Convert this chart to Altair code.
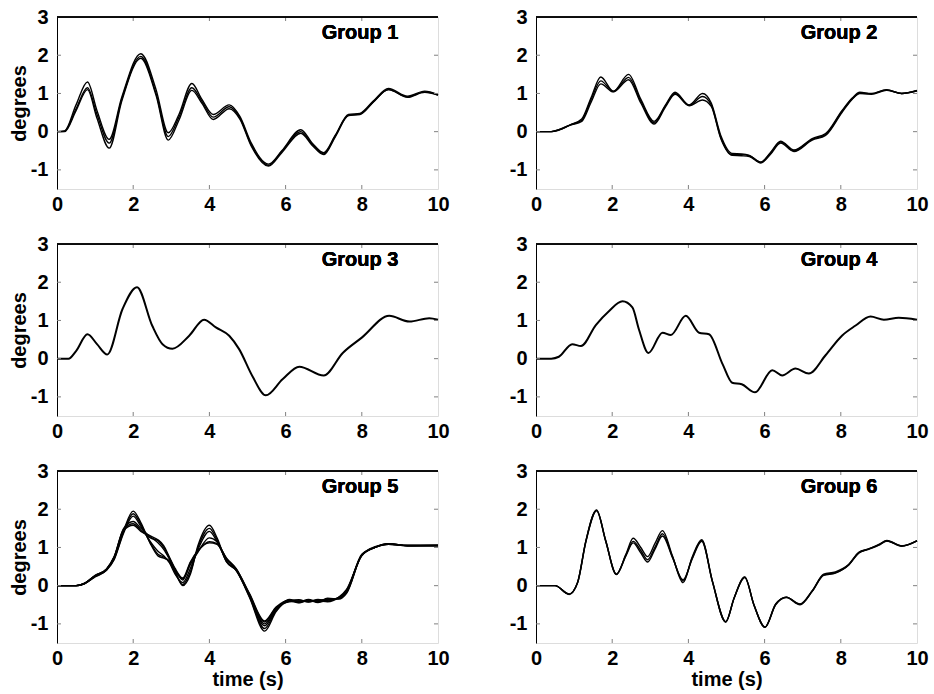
import altair as alt
import pandas as pd

# ---------------- data ----------------
G1_T = [0, 0.2, 0.5, 0.8, 1.05, 1.37, 1.7, 2.2, 2.6, 2.92, 3.2, 3.54, 3.8, 4.1, 4.52, 4.8,
        5.1, 5.55, 5.9, 6.4, 6.7, 7.0, 7.3, 7.65, 7.95, 8.3, 8.7, 9.2, 9.65, 10]
G1_A = [0, 0.02, 0.7, 1.3, 0.55, -0.2, 0.9, 2.04, 1.1, -0.03, 0.45, 1.26, 0.85, 0.45, 0.7, 0.4,
        -0.3, -0.85, -0.5, 0.05, -0.3, -0.55, -0.1, 0.45, 0.48, 0.8, 1.13, 0.93, 1.06, 0.97]
G1_B = [0, 0.01, 0.6, 1.15, 0.45, -0.3, 0.85, 1.97, 1.0, -0.13, 0.38, 1.15, 0.8, 0.38, 0.65, 0.36,
        -0.35, -0.88, -0.52, 0.0, -0.33, -0.58, -0.12, 0.43, 0.46, 0.78, 1.1, 0.91, 1.04, 0.96]
G1_C = [0, 0.0, 0.55, 1.1, 0.35, -0.43, 0.8, 1.92, 0.95, -0.22, 0.3, 1.08, 0.75, 0.32, 0.6, 0.33,
        -0.38, -0.9, -0.55, -0.04, -0.36, -0.6, -0.14, 0.42, 0.45, 0.77, 1.1, 0.9, 1.03, 0.96]

G2_T = [0, 0.4, 0.6, 0.9, 1.2, 1.45, 1.7, 2.03, 2.43, 2.75, 3.1, 3.4, 3.65, 4.02, 4.37, 4.6,
        4.85, 5.15, 5.4, 5.6, 5.9, 6.15, 6.42, 6.77, 7.25, 7.6, 8.03, 8.3, 8.5, 8.8, 9.2, 9.6, 10]
G2_A = [0, 0, 0.05, 0.18, 0.33, 0.9, 1.43, 1.06, 1.5, 0.85, 0.27, 0.7, 1.03, 0.7, 1.0, 0.75,
        -0.1, -0.57, -0.58, -0.62, -0.8, -0.55, -0.25, -0.48, -0.18, -0.05, 0.55, 0.88, 1.03, 1.0, 1.1, 1.0, 1.08]
G2_B = [0, 0, 0.05, 0.18, 0.3, 0.85, 1.33, 1.05, 1.42, 0.8, 0.23, 0.68, 1.0, 0.69, 0.92, 0.7,
        -0.15, -0.6, -0.6, -0.63, -0.8, -0.57, -0.27, -0.5, -0.2, -0.08, 0.53, 0.86, 1.01, 0.99, 1.09, 1.0, 1.07]
G2_C = [0, 0, 0.04, 0.17, 0.27, 0.78, 1.25, 1.04, 1.36, 0.75, 0.2, 0.65, 0.98, 0.68, 0.83, 0.66,
        -0.18, -0.62, -0.63, -0.65, -0.82, -0.6, -0.3, -0.52, -0.22, -0.1, 0.5, 0.85, 1.0, 0.98, 1.08, 1.0, 1.07]

G3_T = [0, 0.3, 0.5, 0.8, 1.05, 1.32, 1.72, 2.1, 2.5, 2.77, 3.03, 3.47, 3.86, 4.17, 4.52, 4.78,
        5.13, 5.48, 5.92, 6.36, 7.0, 7.5, 8.0, 8.72, 9.25, 9.77, 10]
G3_V = [0, 0.0, 0.2, 0.64, 0.38, 0.11, 1.3, 1.87, 0.86, 0.38, 0.26, 0.6, 1.02, 0.82, 0.6, 0.25,
        -0.46, -0.96, -0.54, -0.21, -0.44, 0.15, 0.55, 1.12, 0.97, 1.06, 1.02]

G4_T = [0, 0.4, 0.6, 0.95, 1.18, 1.57, 1.92, 2.27, 2.53, 2.7, 2.95, 3.32, 3.54, 3.93, 4.28, 4.54,
        4.9, 5.15, 5.4, 5.75, 6.2, 6.46, 6.81, 7.16, 7.6, 8.03, 8.38, 8.78, 9.13, 9.52, 10]
G4_V = [0, 0, 0.05, 0.38, 0.33, 0.88, 1.25, 1.5, 1.34, 0.77, 0.15, 0.68, 0.62, 1.12, 0.68, 0.64,
        -0.15, -0.63, -0.67, -0.88, -0.3, -0.44, -0.26, -0.39, 0.09, 0.6, 0.86, 1.1, 1.02, 1.07, 1.02]

G5_T = [0, 0.5, 0.7, 1.0, 1.3, 1.5, 1.75, 2.0, 2.2, 2.45, 2.65, 2.8, 2.95, 3.1, 3.3, 3.5, 3.7, 4.0,
        4.2, 4.45, 4.7, 5.05, 5.45, 5.75, 6.1, 6.35, 6.6, 6.85, 7.1, 7.4, 7.6, 8.0, 8.35, 8.7, 9.2, 10]
G5_A1 = [0, 0, 0.05, 0.25, 0.42, 0.72, 1.45, 1.95, 1.65, 1.1, 0.78, 0.72, 0.65, 0.38, 0.0, 0.3, 1.05, 1.58,
         1.25, 0.62, 0.4, -0.3, -1.19, -0.68, -0.36, -0.42, -0.36, -0.42, -0.33, -0.35, -0.2, 0.8, 1.0, 1.1, 1.05, 1.05]
G5_A2 = [0, 0, 0.04, 0.24, 0.41, 0.7, 1.42, 1.88, 1.6, 1.12, 0.82, 0.75, 0.62, 0.34, 0.03, 0.36, 1.0, 1.5,
         1.2, 0.63, 0.42, -0.28, -1.12, -0.65, -0.4, -0.37, -0.43, -0.36, -0.4, -0.3, -0.15, 0.82, 1.0, 1.08, 1.04, 1.06]
G5_A3 = [0, 0, 0.04, 0.23, 0.4, 0.68, 1.38, 1.82, 1.55, 1.15, 0.9, 0.78, 0.6, 0.3, 0.08, 0.45, 0.95, 1.42,
         1.15, 0.65, 0.4, -0.25, -1.05, -0.62, -0.38, -0.4, -0.4, -0.38, -0.36, -0.32, -0.18, 0.8, 1.01, 1.1, 1.05, 1.05]
G5_B1 = [0, 0, 0.05, 0.26, 0.43, 0.75, 1.5, 1.68, 1.5, 1.28, 1.12, 0.95, 0.7, 0.42, 0.18, 0.55, 0.88, 1.25,
         1.15, 0.7, 0.43, -0.25, -1.0, -0.6, -0.4, -0.45, -0.38, -0.44, -0.38, -0.33, -0.12, 0.78, 1.0, 1.08, 1.04, 1.04]
G5_B2 = [0, 0, 0.05, 0.27, 0.44, 0.76, 1.48, 1.62, 1.45, 1.25, 1.18, 1.0, 0.72, 0.42, 0.15, 0.6, 0.9, 1.15,
         1.1, 0.72, 0.45, -0.22, -0.95, -0.58, -0.42, -0.4, -0.42, -0.4, -0.42, -0.3, -0.1, 0.8, 1.02, 1.09, 1.05, 1.05]
G5_B3 = [0, 0, 0.05, 0.26, 0.43, 0.74, 1.45, 1.58, 1.42, 1.3, 1.2, 1.05, 0.75, 0.45, 0.2, 0.62, 0.92, 1.12,
         1.08, 0.7, 0.44, -0.2, -0.92, -0.56, -0.38, -0.44, -0.38, -0.42, -0.36, -0.34, -0.14, 0.8, 1.0, 1.1, 1.05, 1.05]

G6_T = [0, 0.5, 0.87, 1.09, 1.31, 1.59, 1.83, 2.11, 2.36, 2.55, 2.75, 2.93, 3.12, 3.32, 3.58, 3.86, 4.1,
        4.35, 4.63, 4.98, 5.2, 5.48, 5.72, 6.01, 6.29, 6.57, 6.93, 7.25, 7.55, 7.86, 8.21, 8.47, 8.73,
        9.0, 9.21, 9.6, 10]
G6_A = [0, 0, -0.23, 0.08, 1.18, 1.98, 1.18, 0.3, 0.82, 1.24, 1.0, 0.76, 1.1, 1.44, 0.78, 0.08, 0.75,
        1.2, 0.12, -0.95, -0.32, 0.23, -0.5, -1.09, -0.49, -0.3, -0.49, -0.14, 0.3, 0.36, 0.56, 0.87, 0.96,
        1.08, 1.18, 1.04, 1.18]
G6_B = [0, 0, -0.22, 0.08, 1.17, 1.97, 1.17, 0.3, 0.8, 1.16, 0.92, 0.68, 1.0, 1.36, 0.76, 0.12, 0.72,
        1.18, 0.12, -0.94, -0.32, 0.22, -0.5, -1.08, -0.48, -0.3, -0.48, -0.13, 0.28, 0.34, 0.55, 0.86, 0.96,
        1.07, 1.17, 1.04, 1.17]
G6_C = [0, 0, -0.22, 0.07, 1.15, 1.96, 1.16, 0.29, 0.78, 1.12, 0.86, 0.62, 0.95, 1.3, 0.74, 0.15, 0.7,
        1.16, 0.1, -0.95, -0.33, 0.21, -0.51, -1.09, -0.5, -0.31, -0.5, -0.15, 0.27, 0.33, 0.54, 0.85, 0.95,
        1.06, 1.17, 1.03, 1.17]

GROUPS = [
    ("Group 1", G1_T, [G1_A, G1_B, G1_C]),
    ("Group 2", G2_T, [G2_A, G2_B, G2_C]),
    ("Group 3", G3_T, [G3_V]),
    ("Group 4", G4_T, [G4_V]),
    ("Group 5", G5_T, [G5_A1, G5_A2, G5_A3, G5_B1, G5_B2, G5_B3]),
    ("Group 6", G6_T, [G6_A, G6_B, G6_C]),
]

X_TICKS = [0, 2, 4, 6, 8, 10]
Y_TICKS = [-1, 0, 1, 2, 3]
X_INNER = [2, 4, 6, 8]
Y_INNER = [-1, 0, 1, 2]

# ---------------- styling ----------------
FONT = "Liberation Sans"
W, H = 381, 172
FS = 20
GRAY = "#808080"

xscale = alt.Scale(domain=[0, 10], nice=False, zero=False)
yscale = alt.Scale(domain=[-1.5, 3], nice=False, zero=False)
label_expr = "datum.value < 0 ? '-' + format(-datum.value, 'd') : format(datum.value, 'd')"


def panel(idx, name, times, curves):
    col = idx % 2
    row = idx // 2
    rows = []
    for ci, vals in enumerate(curves):
        for t, v in zip(times, vals):
            rows.append({"t": t, "v": v, "c": ci})
    df = pd.DataFrame(rows)

    xaxis_kw = dict(values=X_TICKS, ticks=False, domain=False, grid=False,
                    labelFont=FONT, labelFontSize=FS, labelFontWeight="bold",
                    labelColor="black", labelPadding=5, labelFlush=False)
    if row == 2:
        xaxis_kw.update(title="time (s)", titleFont=FONT, titleFontSize=FS,
                        titleFontWeight="bold", titleColor="black", titlePadding=1)
    else:
        xaxis_kw.update(title=None)
    yaxis_kw = dict(values=Y_TICKS, ticks=False, domain=True, domainColor="black",
                    grid=False, labelFont=FONT, labelFontSize=FS, labelFontWeight="bold",
                    labelColor="black", labelPadding=9, labelExpr=label_expr, labelFlush=False)
    if col == 0:
        yaxis_kw.update(title="degrees", titleFont=FONT, titleFontSize=FS,
                        titleFontWeight="bold", titleColor="black", titlePadding=1)
    else:
        yaxis_kw.update(title=None)

    sw = 2.0 if len(curves) == 1 else 1.4
    lines = alt.Chart(df).mark_line(color="black", strokeWidth=sw, interpolate="monotone").encode(
        x=alt.X("t:Q", scale=xscale, axis=alt.Axis(**xaxis_kw)),
        y=alt.Y("v:Q", scale=yscale, axis=alt.Axis(**yaxis_kw)),
        detail="c:N",
    )

    xt = pd.DataFrame({"t": X_INNER})
    yt = pd.DataFrame({"v": Y_INNER})
    xt_bottom = alt.Chart(xt).mark_rule(color=GRAY, strokeWidth=1).encode(
        x=alt.X("t:Q", scale=xscale), y=alt.value(H), y2=alt.value(H - 4))
    xt_top = alt.Chart(xt).mark_rule(color=GRAY, strokeWidth=1).encode(
        x=alt.X("t:Q", scale=xscale), y=alt.value(0), y2=alt.value(4))
    yt_left = alt.Chart(yt).mark_rule(color=GRAY, strokeWidth=1).encode(
        y=alt.Y("v:Q", scale=yscale), x=alt.value(0), x2=alt.value(4))
    yt_right = alt.Chart(yt).mark_rule(color=GRAY, strokeWidth=1).encode(
        y=alt.Y("v:Q", scale=yscale), x=alt.value(W - 4), x2=alt.value(W))
    top_line = alt.Chart(xt).mark_rule(color="black", strokeWidth=1).encode(
        x=alt.value(0), x2=alt.value(W), y=alt.value(0))
    label = alt.Chart(xt).mark_text(
        text=name, font=FONT, fontSize=FS, fontWeight="bold", color="black",
        align="center", baseline="middle").encode(x=alt.value(303), y=alt.value(16))

    return alt.layer(lines, xt_bottom, xt_top, yt_left, yt_right, top_line, label).properties(
        width=W, height=H)


panels = [panel(i, n, t, c) for i, (n, t, c) in enumerate(GROUPS)]

chart = alt.concat(*panels, columns=2, spacing={"row": 55, "column": 98}, bounds="flush").properties(
    padding={"left": 8, "top": 6, "right": 2, "bottom": 0}
).configure_view(stroke=GRAY, strokeWidth=1).configure(background="white")

chart.save("out.html", embed_options={"renderer": "svg", "actions": False})
